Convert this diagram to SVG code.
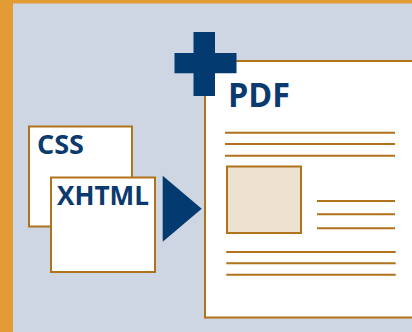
<svg xmlns="http://www.w3.org/2000/svg" width="412" height="332" viewBox="0 0 412 332">
<style>
.doc{fill:#fff;stroke:#B0721A;stroke-width:2}
.ln{stroke:#B0721A;stroke-width:2}
.lbl{font-family:"Open Sans","Liberation Sans",sans-serif;font-weight:bold;fill:#0A3A6E}
.navy{fill:#033A70}
</style>
<rect x="0" y="0" width="412" height="332" fill="#E39B33"/>
<rect x="13" y="3.5" width="399" height="328.5" fill="#CDD6E2"/>
<g id="css">
<rect class="doc" x="29" y="126.5" width="103" height="100"/>
<text class="lbl" x="37" y="153.5" font-size="27" textLength="47" lengthAdjust="spacingAndGlyphs">CSS</text>
</g>
<g id="xhtml">
<rect class="doc" x="51" y="177.5" width="104" height="94.5"/>
<text class="lbl" x="57" y="204.5" font-size="27" textLength="92" lengthAdjust="spacingAndGlyphs">XHTML</text>
</g>
<g id="connectors">
<polygon class="navy" points="162.7,175.7 201.7,208.7 162.7,241.7"/>
</g>
<g id="pdf">
<rect class="doc" x="205" y="61" width="215" height="256.5"/>
<text class="lbl" x="228" y="106.7" font-size="34" textLength="62" lengthAdjust="spacingAndGlyphs">PDF</text>
<g class="ln">
<line x1="225" y1="132.7" x2="395" y2="132.7"/>
<line x1="225" y1="144" x2="395" y2="144"/>
<line x1="225" y1="155.7" x2="395" y2="155.7"/>
<line x1="317" y1="201" x2="395" y2="201"/>
<line x1="317" y1="214.3" x2="395" y2="214.3"/>
<line x1="317" y1="228.3" x2="395" y2="228.3"/>
<line x1="226.3" y1="252" x2="395.7" y2="252"/>
<line x1="226.3" y1="263.3" x2="395.7" y2="263.3"/>
<line x1="226.3" y1="274.7" x2="395.7" y2="274.7"/>
</g>
<rect x="227" y="166.5" width="74" height="66.5" fill="#EDE1D0" stroke="#B0721A" stroke-width="2"/>
</g>
<g id="plus">
<path class="navy" d="M193.5,32H215V53H236.5V73.3H215V96H193.5V73.3H174.5V53H193.5Z"/>
</g>
</svg>
